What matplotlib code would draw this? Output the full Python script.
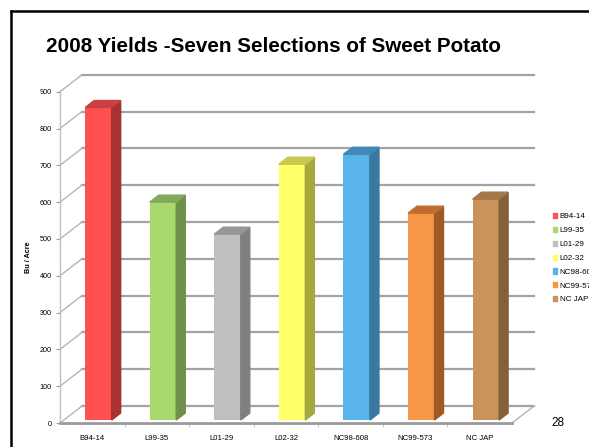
import numpy as np
import matplotlib.pyplot as plt
from matplotlib.patches import Polygon
from matplotlib.lines import Line2D

plt.rcParams['font.family'] = ['Liberation Sans', 'DejaVu Sans']

# yields by selection
selections = ['B94-14', 'L99-35', 'L01-29', 'L02-32', 'NC98-608', 'NC99-573', 'NC JAP']
yields = [849, 592, 505, 695, 722, 562, 600]

front_col = ['#ff5050', '#a9d86e', '#bfbfbf', '#ffff66', '#5ab4ec', '#f79646', '#c9935a']
side_col = ['#a83232', '#6e9048', '#7f7f7f', '#a8a840', '#3a78a0', '#a05a24', '#84603a']
top_col = ['#c84040', '#82a85a', '#969696', '#c8c84a', '#4488b8', '#c06c30', '#a47848']

yticks = list(range(0, 1000, 100))

fig = plt.figure(figsize=(5.89, 4.47), dpi=100)
ax = fig.add_axes([60/589, (447-423)/447, 452/589, 331.3/447])
ax.set_xlim(0, 7)
ax.set_ylim(0, 900)

# depth of the 3d box, in data units
dx = 22/64.57
dy = 17/0.368
# depth of each bar
bdx = 9/64.57
bdy = 7/0.368
b0 = 8

# back wall gridlines and left wall slants
for v in yticks:
    ax.add_line(Line2D([dx, 7+dx], [v+dy, v+dy], color='#a3a3a3', lw=1.6, zorder=1, clip_on=False))
    ax.add_line(Line2D([0, dx], [v, v+dy], color='#b5b5b5', lw=1.0, zorder=1, clip_on=False))
# floor right edge
ax.add_line(Line2D([7, 7+dx], [0, dy], color='#b5b5b5', lw=1.0, zorder=1, clip_on=False))

for i, (v, fc, sc, tc) in enumerate(zip(yields, front_col, side_col, top_col)):
    x0 = i + 0.39
    x1 = i + 0.80
    ax.bar(x0, v, width=x1-x0, bottom=b0, align='edge', color=fc, zorder=3)
    side = [(x1, b0), (x1+bdx, b0+bdy), (x1+bdx, b0+v+bdy), (x1, b0+v)]
    top = [(x0, b0+v), (x0+bdx, b0+v+bdy), (x1+bdx, b0+v+bdy), (x1, b0+v)]
    ax.add_patch(Polygon(side, closed=True, color=sc, zorder=3, clip_on=False))
    ax.add_patch(Polygon(top, closed=True, color=tc, zorder=3, clip_on=False))

for s in ['top', 'right']:
    ax.spines[s].set_visible(False)
ax.spines['left'].set_color('#c0c0c0')
ax.spines['left'].set_linewidth(1.0)
ax.spines['bottom'].set_color('#9a9a9a')
ax.spines['bottom'].set_linewidth(2.0)

ax.set_yticks(yticks)
ax.tick_params(axis='y', labelsize=5.2, length=3, color='#a0a0a0', pad=3)
ax.set_xticks(np.arange(7) + 0.5)
ax.set_xticklabels(selections)
ax.set_xticks(np.arange(1, 7), minor=True)
ax.tick_params(axis='x', which='major', labelsize=5.6, length=0, pad=9)
ax.tick_params(axis='x', which='minor', length=3, color='#c0c0c0')
ax.set_ylabel('Bu / Acre', fontsize=5.2, fontweight='bold')
ax.yaxis.set_label_coords(-28/452, 0.5)

fig.text(273/589, 1 - 47/447, '2008 Yields -Seven Selections of Sweet Potato',
         ha='center', va='center', fontsize=14.9, fontweight='bold')

handles = [plt.Rectangle((0, 0), 1, 1, color=c) for c in front_col]
fig.legend(handles, selections, loc='upper left', bbox_to_anchor=(549/589, 1 - 209/447),
           fontsize=5.8, frameon=False, handlelength=0.55, handleheight=0.6,
           handletextpad=0.3, labelspacing=0.8, borderpad=0)

fig.text(558/589, 1 - 423/447, '28', ha='center', va='center', fontsize=8.5)

# slide frame
fig.add_artist(Line2D([11/589, 11/589], [0, 1 - 11/447], color='black', lw=1.8))
fig.add_artist(Line2D([11/589, 1], [1 - 11/447, 1 - 11/447], color='black', lw=1.8))

fig.savefig('out.png', dpi=100)
